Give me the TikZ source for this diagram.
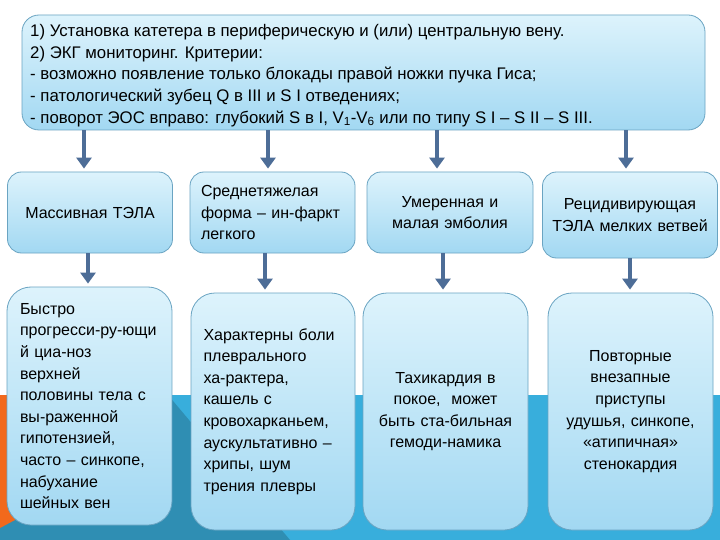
\documentclass[tikz,border=0pt]{standalone}
\usepackage{fontspec}
\setmainfont{Liberation Sans}
\usetikzlibrary{arrows.meta}
\definecolor{bandblue}{HTML}{38AEDC}
\definecolor{bandteal}{HTML}{2F8EB3}
\definecolor{bandorange}{HTML}{F2691C}
\definecolor{boxtop}{HTML}{DDF3FC}
\definecolor{boxbot}{HTML}{A2D8F2}
\definecolor{boxline}{HTML}{6AA4C2}
\definecolor{arrowcol}{HTML}{4D6D97}
\tikzset{
  box/.style={draw=boxline, line width=0.8pt, top color=boxtop, bottom color=boxbot,
    inner sep=0pt, text=black},
  bigtxt/.style={font=\fontsize{16.8}{21.6}\selectfont},
  txt/.style={font=\fontsize{16}{21.6}\selectfont},
  arr/.style={draw=arrowcol, line width=3.3pt, -{Triangle[width=15pt,length=11pt]}}
}
\begin{document}
\begin{tikzpicture}[x=1pt,y=-1pt]
\useasboundingbox (0,0) rectangle (720,540);
% background band
\fill[white] (0,0) rectangle (720,540);
\fill[bandblue] (0,395) rectangle (720,540);
\fill[bandteal] (0,395) -- (168,395) -- (290,540) -- (0,540) -- cycle;
\fill[bandorange] (0,395) -- (9,395) -- (9,470) -- (15,520) -- (0,528) -- cycle;
% boxes
\node[box, rounded corners=17pt, minimum width=683pt, minimum height=115pt] (top) at (363.5,72.5) {};
\node[anchor=west, align=left, bigtxt, inner sep=0pt] (toptxt) at (30,75.5)
  {1) Установка катетера в периферическую и (или) центральную вену.\\
   2) ЭКГ мониторинг. Критерии:\\
   - возможно появление только блокады правой ножки пучка Гиса;\\
   - патологический зубец Q в III и S I отведениях;\\
   - поворот ЭОС вправо: глубокий S в I, V\textsubscript{1}-V\textsubscript{6} или по типу S I – S II – S III.};
\node[box, rounded corners=14pt, minimum width=165pt, minimum height=81pt,
  text width=155pt, align=center, txt] (a) at (90,212.5) {Массивная ТЭЛА};
\node[box, rounded corners=14pt, minimum width=165pt, minimum height=81pt,
  text width=143pt, align=left, txt] (b) at (272.5,212.5)
  {Среднетяжелая\\форма – ин-фаркт\\легкого};
\node[box, rounded corners=14pt, minimum width=166pt, minimum height=81pt,
  text width=156pt, align=center, txt] (c) at (450,212.5)
  {Умеренная и\\малая эмболия};
\node[box, rounded corners=14pt, minimum width=175pt, minimum height=86pt,
  text width=170pt, align=center, txt] (d) at (630,215)
  {Рецидивирующая\\ТЭЛА мелких ветвей};
\node[box, rounded corners=24pt, minimum width=165pt, minimum height=238pt,
  text width=139pt, align=left, txt] (e) at (89.5,406)
  {Быстро\\прогресси-ру-ющи\\й циа-ноз\\верхней\\половины тела с\\вы-раженной\\гипотензией,\\часто – синкопе,\\набухание\\шейных вен};
\node[box, rounded corners=24pt, minimum width=164pt, minimum height=237pt,
  text width=139pt, align=left, txt] (f) at (273,411.5)
  {Характерны боли\\плеврального\\ха-рактера,\\кашель с\\кровохарканьем,\\аускультативно –\\хрипы, шум\\трения плевры};
\node[box, rounded corners=24pt, minimum width=165pt, minimum height=237pt,
  text width=155pt, align=center, txt] (g) at (445.5,411.5)
  {Тахикардия в\\покое,\ \ может\\быть ста-бильная\\гемоди-намика};
\node[box, rounded corners=24pt, minimum width=165pt, minimum height=237pt,
  text width=155pt, align=center, txt] (h) at (630.5,411.5)
  {Повторные\\внезапные\\приступы\\удушья, синкопе,\\«атипичная»\\стенокардия};
% arrow columns
\coordinate (x1) at (84,0);
\coordinate (x2) at (268,0);
\coordinate (x3) at (437,0);
\coordinate (x4) at (626,0);
\coordinate (y1) at (88,0);
\coordinate (y2) at (265,0);
\coordinate (y3) at (443,0);
\coordinate (y4) at (630,0);
\draw[arr] (top.south -| x1) -- ([yshift=3pt]a.north -| x1);
\draw[arr] (top.south -| x2) -- ([yshift=3pt]b.north -| x2);
\draw[arr] (top.south -| x3) -- ([yshift=3pt]c.north -| x3);
\draw[arr] (top.south -| x4) -- ([yshift=3pt]d.north -| x4);
\draw[arr] (a.south -| y1) -- ([yshift=3pt]e.north -| y1);
\draw[arr] (b.south -| y2) -- ([yshift=3pt]f.north -| y2);
\draw[arr] (c.south -| y3) -- ([yshift=3pt]g.north -| y3);
\draw[arr] (d.south -| y4) -- ([yshift=3pt]h.north -| y4);
\end{tikzpicture}
\end{document}
